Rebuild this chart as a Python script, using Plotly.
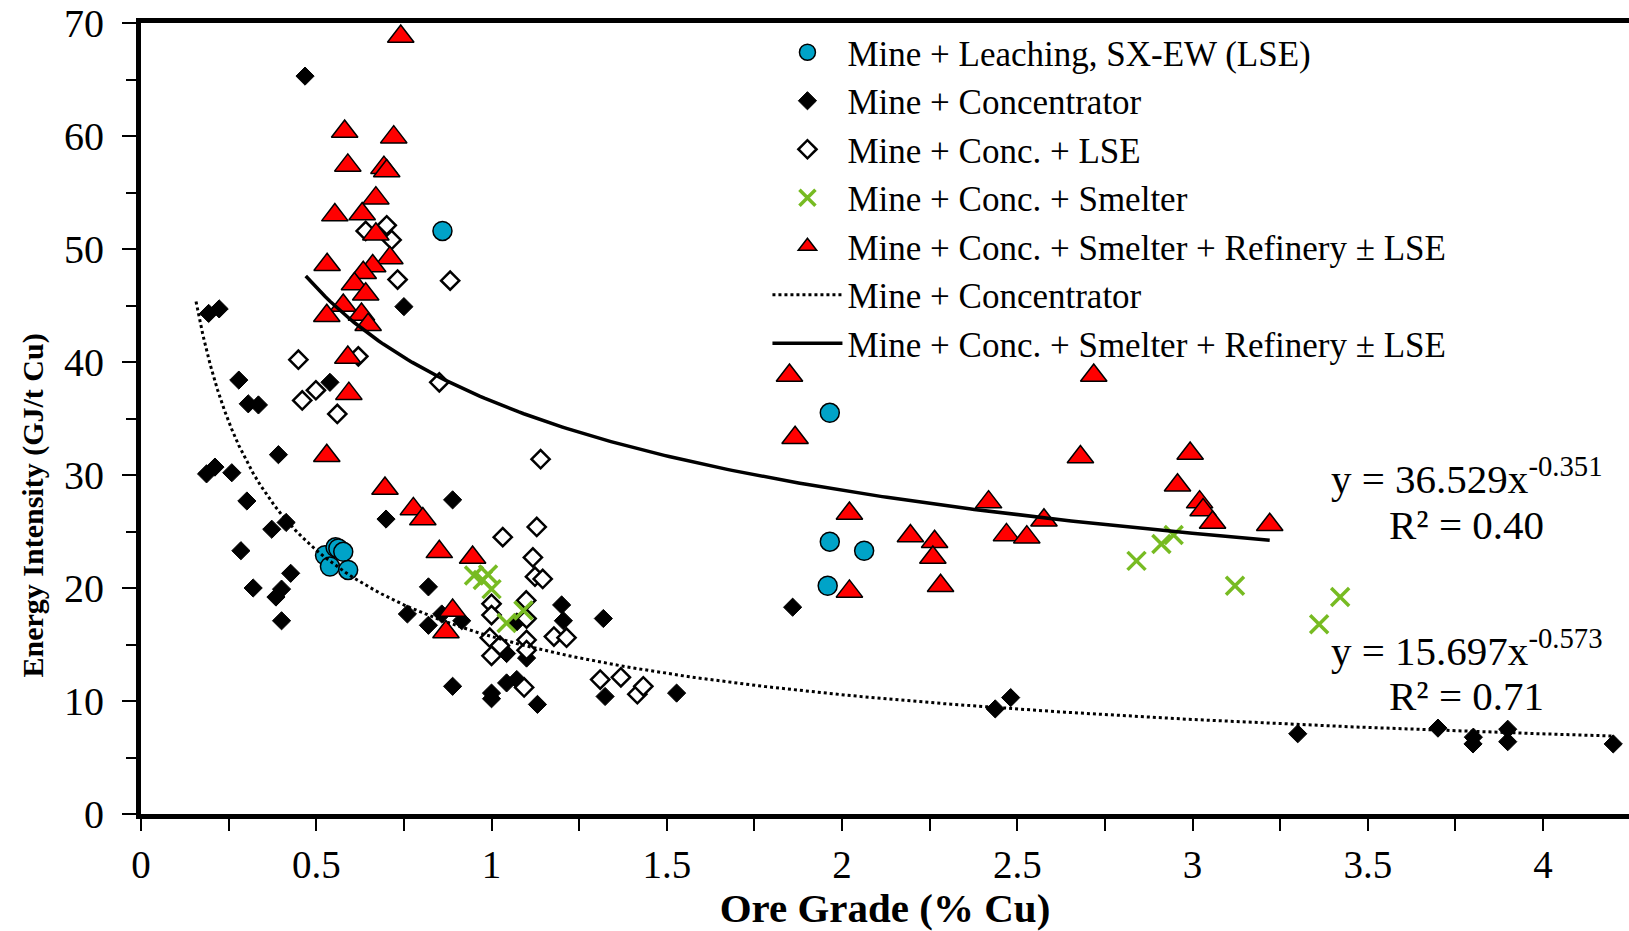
import plotly.graph_objects as go

# ---------------- data ----------------
lse_x = [0.525, 0.555, 0.563, 0.577, 0.539, 0.591, 0.860, 1.965, 1.965, 2.063, 1.959]
lse_y = [22.9, 23.6, 23.5, 23.2, 21.9, 21.6, 51.6, 35.5, 24.1, 23.3, 20.2]

conc_x = [0.468, 0.750, 0.193, 0.223, 0.279, 0.306, 0.335, 0.539, 0.392, 0.187,
          0.211, 0.259, 0.302, 0.889, 0.699, 0.373, 0.414, 0.285, 0.427, 0.320,
          0.401, 0.385, 0.401, 0.820, 0.760, 0.820, 0.858, 0.915, 0.889, 1.000,
          1.000, 1.043, 1.072, 1.131, 1.200, 1.205, 1.319, 1.324, 1.528, 1.859,
          1.043, 1.100, 1.072, 2.437, 2.481, 3.300, 3.700, 3.801, 3.800, 3.899,
          3.899, 4.200]
conc_y = [65.3, 44.9, 44.3, 44.7, 38.4, 36.3, 36.2, 38.2, 31.8, 30.1,
          30.7, 30.2, 27.7, 27.8, 26.1, 25.2, 25.8, 23.3, 21.3, 20.0,
          19.9, 19.2, 17.1, 20.1, 17.7, 16.7, 17.7, 17.1, 11.3, 10.7,
          10.2, 11.6, 11.9, 9.7, 18.5, 17.1, 17.3, 10.4, 10.7, 18.3,
          14.2, 13.8, 17.0, 9.3, 10.3, 7.1, 7.6, 6.8, 6.2, 7.5,
          6.4, 6.2]

conclse_x = [0.701, 0.641, 0.715, 0.732, 0.882, 0.449, 0.620, 0.851, 0.499, 0.460,
             0.560, 1.140, 1.032, 1.129, 1.118, 1.124, 1.146, 1.000, 1.000, 1.099,
             1.100, 0.995, 1.024, 1.000, 1.100, 1.100, 1.178, 1.214, 1.093, 1.310,
             1.369, 1.416, 1.433]
conclse_y = [52.1, 51.6, 50.8, 47.3, 47.2, 40.2, 40.5, 38.2, 37.5, 36.6,
             35.4, 31.4, 24.5, 25.4, 22.7, 21.0, 20.8, 18.6, 17.6, 18.9,
             17.3, 15.6, 14.9, 14.0, 15.4, 14.5, 15.7, 15.6, 11.2, 11.9,
             12.1, 10.6, 11.3]

smelt_x = [0.950, 0.975, 0.990, 1.000, 1.043, 1.091, 2.840, 2.911, 2.946, 3.121, 3.421, 3.361]
smelt_y = [21.1, 20.7, 21.2, 19.9, 16.9, 18.0, 22.4, 23.9, 24.7, 20.2, 19.2, 16.8]

ref_x = [0.741, 0.581, 0.721, 0.590, 0.693, 0.701, 0.670, 0.553, 0.631, 0.670,
         0.531, 0.710, 0.661, 0.634, 0.609, 0.641, 0.577, 0.530, 0.629, 0.648,
         0.590, 0.593, 0.530, 0.696, 0.777, 0.804, 0.851, 0.946, 0.889, 0.870,
         1.850, 2.718, 1.866, 2.680, 2.993, 2.957, 3.020, 3.030, 3.057, 3.220,
         2.418, 2.576, 2.469, 2.527, 2.021, 2.195, 2.264, 2.259, 2.281, 2.021]
ref_y = [68.8, 60.4, 59.9, 57.4, 57.2, 56.9, 54.5, 53.0, 53.1, 51.3,
         48.6, 49.2, 48.5, 47.9, 46.9, 46.0, 45.0, 44.1, 44.2, 43.3,
         40.4, 37.2, 31.7, 28.8, 27.0, 26.1, 23.2, 22.7, 18.0, 16.1,
         38.8, 38.8, 33.3, 31.6, 31.9, 29.1, 27.6, 26.9, 25.8, 25.6,
         27.6, 26.0, 24.7, 24.5, 26.6, 24.6, 24.1, 22.7, 20.2, 19.7]

# power-law trendlines as printed on the chart
conc_fit_a, conc_fit_b = 15.697, -0.573
conc_fit_range = (0.157, 4.20)
ref_fit_a, ref_fit_b = 36.529, -0.351
ref_fit_range = (0.47, 3.22)

x_ticks = [0, 0.5, 1, 1.5, 2, 2.5, 3, 3.5, 4]
y_ticks = [0, 10, 20, 30, 40, 50, 60, 70]

FONT = "Liberation Serif"


def curve(a, b, lo, hi, n=200):
    xs = [lo + (hi - lo) * i / (n - 1) for i in range(n)]
    return xs, [a * x ** b for x in xs]


fig = go.Figure()

fig.add_trace(go.Scatter(x=conc_x, y=conc_y, mode="markers", name="Mine + Concentrator",
                         legendrank=2,
                         marker=dict(symbol="diamond", size=14, color="black",
                                     line=dict(color="black", width=1))))
fig.add_trace(go.Scatter(x=conclse_x, y=conclse_y, mode="markers", name="Mine + Conc. + LSE",
                         legendrank=3,
                         marker=dict(symbol="diamond", size=14, color="white",
                                     line=dict(color="black", width=2.5))))
fig.add_trace(go.Scatter(x=lse_x, y=lse_y, mode="markers", name="Mine + Leaching, SX-EW (LSE)",
                         legendrank=1,
                         marker=dict(symbol="circle", size=19, color="#00a3c8",
                                     line=dict(color="black", width=1.5))))
fig.add_trace(go.Scatter(x=smelt_x, y=smelt_y, mode="markers", name="Mine + Conc. + Smelter",
                         legendrank=4,
                         marker=dict(symbol="x-thin", size=18, color="#77bb22",
                                     line=dict(color="#77bb22", width=3.5))))
fig.add_trace(go.Scatter(x=ref_x, y=ref_y, mode="markers",
                         name="Mine + Conc. + Smelter + Refinery ± LSE",
                         legendrank=5,
                         marker=dict(symbol="triangle-up", size=23, color="#ff0000",
                                     line=dict(color="black", width=1.5))))

cx, cy = curve(conc_fit_a, conc_fit_b, *conc_fit_range)
fig.add_trace(go.Scatter(x=cx, y=cy, mode="lines", name="Mine + Concentrator",
                         legendrank=6,
                         line=dict(color="black", width=3, dash="dot")))
rx, ry = curve(ref_fit_a, ref_fit_b, *ref_fit_range)
fig.add_trace(go.Scatter(x=rx, y=ry, mode="lines",
                         name="Mine + Conc. + Smelter + Refinery ± LSE",
                         legendrank=7,
                         line=dict(color="black", width=3.5)))

ann_font = dict(family=FONT, size=41, color="black")
for txt, xx, yy in [
    ("y = 36.529x<sup>-0.351</sup>", 3.78, 29.9),
    ("R² = 0.40", 3.78, 25.6),
    ("y = 15.697x<sup>-0.573</sup>", 3.78, 14.7),
    ("R² = 0.71", 3.78, 10.4),
]:
    fig.add_annotation(x=xx, y=yy, xref="x", yref="y", text=txt, showarrow=False,
                       font=ann_font, xanchor="center", yanchor="middle")

# y-axis title (placed slightly below the centre, as in the reference)
fig.add_annotation(x=-0.0726, y=27.3, xref="paper", yref="y",
                   text="<b>Energy Intensity (GJ/t Cu)</b>", textangle=-90,
                   showarrow=False, font=dict(family=FONT, size=30, color="black"),
                   xanchor="center", yanchor="middle")

fig.update_layout(
    width=1629, height=931,
    margin=dict(l=141, r=0, t=23, b=117),
    paper_bgcolor="white", plot_bgcolor="white",
    font=dict(family=FONT, size=36, color="black"),
    showlegend=True,
    legend=dict(x=0.421, y=1.0, xanchor="left", yanchor="top",
                bgcolor="rgba(0,0,0,0)", borderwidth=0,
                font=dict(family=FONT, size=35, color="black"),
                itemwidth=70),
    xaxis=dict(range=[0, 4.245], tickvals=x_ticks, ticktext=[str(v) for v in x_ticks],
               showgrid=False, zeroline=False,
               showline=True, linecolor="black", linewidth=5, mirror=True,
               ticks="outside", ticklen=12, tickwidth=2, tickcolor="black",
               minor=dict(dtick=0.25, tick0=0, ticks="outside", ticklen=12, tickwidth=2,
                          tickcolor="black", showgrid=False),
               tickfont=dict(family=FONT, size=39), ticklabelstandoff=0,
               title=dict(text="<b>Ore Grade (% Cu)</b>", font=dict(family=FONT, size=41),
                          standoff=4)),
    yaxis=dict(range=[0, 70], tickvals=y_ticks, showgrid=False, zeroline=False,
               showline=True, linecolor="black", linewidth=5, mirror=False,
               ticks="outside", ticklen=14, tickwidth=2, tickcolor="black",
               minor=dict(dtick=5, tick0=0, ticks="outside", ticklen=10, tickwidth=2,
                          tickcolor="black", showgrid=False),
               tickfont=dict(family=FONT, size=40), ticklabelstandoff=10),
)

fig.write_html("out.html")
